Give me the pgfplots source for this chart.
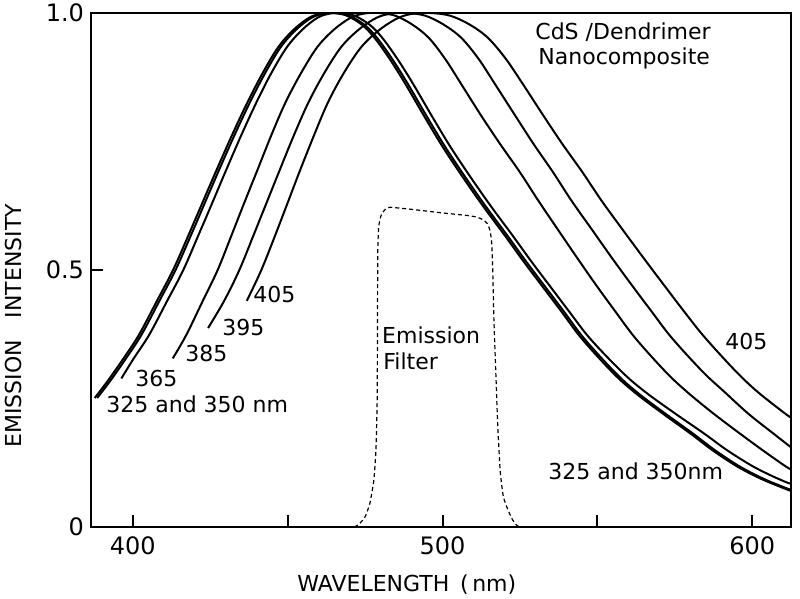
\documentclass[border=0pt]{standalone}
\usepackage{fontspec}
\setmainfont{DejaVu Sans}
\usepackage{pgfplots}
\usepackage{pgfplotstable}
\pgfplotsset{compat=1.18}
\pgfplotsset{crv/.style={black, solid, line width=1pt, smooth, tension=0.55, mark=none}}
\pgfplotstableread{
x y
387.7 0.251
392 0.285
397 0.328
402 0.374
407.8 0.440
413 0.500
418 0.568
422.7 0.634
427 0.694
432 0.762
437 0.826
442 0.884
447 0.934
452 0.968
457 0.991
461 0.999
464.5 1.000
469 0.995
474 0.977
478 0.952
483 0.910
488 0.862
494 0.800
500 0.740
506.5 0.681
513 0.625
520 0.568
526 0.518
532 0.470
538.4 0.419
545 0.366
555 0.300
562 0.262
570.8 0.222
580 0.182
587 0.150
594.5 0.120
600 0.102
605 0.088
612.5 0.070
}\tA
\pgfplotstableread{
x y
388.5 0.251
392.8 0.285
397.8 0.328
402.8 0.374
408.6 0.440
413.8 0.500
418.8 0.568
423.5 0.634
427.8 0.694
432.8 0.762
437.8 0.826
442.8 0.884
447.8 0.934
452.8 0.968
457.8 0.991
461.8 0.999
465.3 1.000
469.8 0.995
474.8 0.977
478.8 0.952
483.8 0.910
488.8 0.862
494.8 0.800
500.8 0.740
507.3 0.681
513.8 0.625
520.8 0.568
526.8 0.518
532.8 0.470
539.2 0.419
545.8 0.366
555.8 0.300
562.8 0.262
571.6 0.222
580.8 0.182
587.8 0.150
595.3 0.120
600.8 0.102
605.8 0.088
612.5 0.072
}\tAA
\pgfplotstableread{
x y
396.3 0.289
400.3 0.328
405.3 0.374
411.1 0.440
416.3 0.500
421.2 0.568
425.9 0.634
430.1 0.694
435.0 0.762
439.9 0.826
444.8 0.884
449.8 0.934
454.8 0.968
459.7 0.991
463.7 0.999
467.2 1.000
471.5 0.995
476.5 0.977
480.5 0.952
485.5 0.910
490.5 0.862
496.5 0.800
502.5 0.740
509.0 0.681
515.5 0.625
522.5 0.568
528.5 0.518
534.5 0.470
540.9 0.419
547.7 0.366
558.2 0.300
565.6 0.262
574.8 0.222
584.4 0.182
591.7 0.150
599.6 0.120
605.4 0.102
610.6 0.088
612.5 0.084
}\tB
\pgfplotstableread{
x y
412.9 0.328
417.3 0.374
422.6 0.440
427.4 0.500
431.9 0.568
436.2 0.634
440.2 0.694
444.7 0.762
449.3 0.826
454.4 0.884
459.6 0.934
465.0 0.968
470.4 0.991
474.8 0.999
479.2 1.000
484.6 0.995
490.1 0.978
495.5 0.952
500.8 0.911
506.0 0.862
512.5 0.800
518.6 0.745
525.0 0.690
530.8 0.636
537.3 0.578
543.3 0.525
549.3 0.473
555.7 0.420
562.3 0.367
572.0 0.302
578.9 0.263
587.4 0.221
596.4 0.180
603.2 0.150
610.5 0.119
612.5 0.112
}\tC
\pgfplotstableread{
x y
424.3 0.387
429.5 0.440
434.4 0.500
439.0 0.568
443.4 0.634
447.4 0.694
452.0 0.762
456.7 0.826
461.9 0.884
467.3 0.934
473.0 0.968
478.8 0.991
483.6 0.999
488.4 1.000
494.3 0.995
500.2 0.978
506.0 0.952
511.6 0.911
516.9 0.862
523.5 0.800
529.4 0.745
535.7 0.690
541.5 0.636
548.3 0.578
554.5 0.525
560.8 0.473
567.4 0.420
574.0 0.368
584.0 0.302
590.8 0.264
598.8 0.220
607.2 0.180
612.5 0.155
}\tD
\pgfplotstableread{
x y
436.8 0.440
441.5 0.500
446.0 0.568
450.2 0.634
454.0 0.694
458.5 0.762
463.0 0.826
468.2 0.884
473.8 0.934
479.8 0.968
485.9 0.991
490.9 0.999
496.0 1.000
502.3 0.995
508.6 0.978
514.6 0.952
520.4 0.911
525.9 0.862
532.6 0.800
538.7 0.745
545.2 0.690
551.2 0.636
558.2 0.578
564.7 0.525
571.2 0.473
577.9 0.420
584.5 0.370
594.5 0.304
601.5 0.264
610.3 0.222
612.5 0.213
}\tE
\pgfplotstableread{
x y
471.5 0.000
473.0 0.005
475.0 0.020
476.5 0.045
477.8 0.090
478.5 0.150
478.9 0.250
479.0 0.400
479.1 0.540
479.4 0.585
480.2 0.607
481.5 0.618
483.0 0.622
490.0 0.618
500.0 0.611
508.0 0.606
511.0 0.603
513.0 0.598
514.5 0.590
515.4 0.575
515.9 0.550
516.2 0.500
516.6 0.400
517.2 0.300
517.8 0.200
518.6 0.110
519.6 0.060
521.0 0.035
522.5 0.015
524.0 0.003
525.0 0.000
}\tF
\begin{document}
\begin{tikzpicture}
\useasboundingbox (-45.5pt,-36pt) rectangle (354.5pt,263.5pt);
\begin{axis}[at={(0pt,0pt)}, anchor=south west, scale only axis,
  width=350pt, height=257pt,
  xmin=386.5, xmax=612.5, ymin=0, ymax=1,
  xtick={400,450,500,550,600}, xticklabels={400,,500,,600},
  ytick={0,0.5,1}, yticklabels={0,0.5,1.0},
  tick align=inside, xtick pos=bottom, ytick pos=left, major tick length=6pt,
  axis line style={line width=1pt}, tick style={line width=1pt, black},
  ticklabel style={font=\fontsize{12}{14}\selectfont},
  xticklabel style={yshift=-1.5pt},
  /pgf/number format/assume math mode=true,
]
\addplot[crv] table {\tA};
\addplot[crv] table {\tAA};
\addplot[crv] table {\tB};
\addplot[crv] table {\tC};
\addplot[crv] table {\tD};
\addplot[crv] table {\tE};
\addplot[black, line width=0.6pt, dash pattern=on 2pt off 1.5pt, smooth, tension=0.3, mark=none] table {\tF};
\end{axis}
\begin{scope}[every node/.style={inner sep=0pt, font=\fontsize{11}{13}\selectfont}]
\node[anchor=base west] at (81pt,112pt) {405};
\node[anchor=base west] at (65.5pt,95.5pt) {395};
\node[anchor=base west] at (47pt,82.5pt) {385};
\node[anchor=base west] at (22pt,70pt) {365};
\node[anchor=base west] at (7.5pt,57pt) {325 and 350 nm};
\node[anchor=base west] at (317pt,88.5pt) {405};
\node[anchor=base west] at (228.5pt,23.5pt) {325 and 350nm};
\node[anchor=base west] at (145.4pt,91.9pt) {Emission};
\node[anchor=base west] at (146pt,78.5pt) {Filter};
\node[anchor=base west] at (222pt,243.5pt) {CdS /Dendrimer};
\node[anchor=base west] at (223.5pt,231pt) {Nanocomposite};
\node[anchor=base west] at (103pt,-32.5pt) {WAVELENGTH \,(\,nm)};
\node[anchor=base west, rotate=90] at (-34.5pt,39.5pt) {EMISSION\quad INTENSITY};
\end{scope}
\end{tikzpicture}
\end{document}
